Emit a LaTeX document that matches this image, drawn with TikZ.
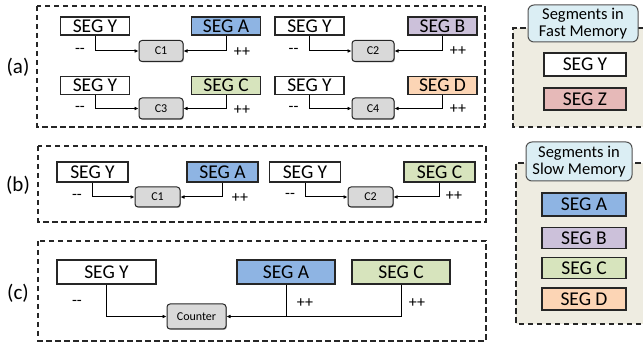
\documentclass[tikz,border=0pt]{standalone}
\usepackage{fontspec}
\setmainfont{Carlito}
\usetikzlibrary{arrows.meta,shadows}
\definecolor{segA}{HTML}{8EB4E3}
\definecolor{segB}{HTML}{CCC1DA}
\definecolor{segC}{HTML}{D7E4BD}
\definecolor{segD}{HTML}{FCD5B5}
\definecolor{segZ}{HTML}{E6B9B8}
\definecolor{cntfill}{HTML}{D9D9D9}
\definecolor{panelbg}{HTML}{EEECE1}
\definecolor{titlefill}{HTML}{DBEEF4}
\definecolor{edge}{HTML}{262626}
\begin{document}
\begin{tikzpicture}[x=1pt,y=-1pt,
  shad/.style={drop shadow={shadow xshift=0.9pt,shadow yshift=-0.9pt,opacity=0.35,fill=black}},
  segbox/.style={draw=edge,line width=1.2pt,fill=white,inner sep=0pt,shad,
    font=\fontsize{19.5}{21}\selectfont},
  cntbox/.style={draw=edge,line width=1pt,fill=cntfill,rounded corners=3pt,inner sep=0pt,shad,
    font=\fontsize{12}{14}\selectfont},
  titlebox/.style={draw=edge!80,line width=1pt,fill=titlefill,rounded corners=6pt,inner sep=0pt,
    align=center,font=\fontsize{16.5}{17.5}\selectfont},
  panel/.style={draw=black!85,line width=1.5pt,dash pattern=on 5.5pt off 3.5pt},
  conn/.style={line width=1pt,-{Latex[length=4pt,width=3.8pt]}},
  plain/.style={line width=1pt},
  sign/.style={font=\fontsize{16}{18}\selectfont,inner sep=0pt},
  lab/.style={font=\fontsize{21}{23}\selectfont,inner sep=0pt}]
\useasboundingbox (0,0) rectangle (643,347);

% ---------- panels ----------
\draw[panel] (37,6) rectangle (485,127);
\draw[panel] (38,146) rectangle (486,222);
\draw[panel] (38,241) rectangle (486,341);
\fill[panelbg] (513,28) rectangle (650,127);
\draw[panel] (650,127) -- (513,127) -- (513,28) -- (650,28);
\fill[panelbg] (516,163) rectangle (650,324);
\draw[panel] (650,324) -- (516,324) -- (516,163) -- (650,163);

\node[lab] (la) at (18,67) {(a)};
\node[lab] (lb) at (18,185) {(b)};
\node[lab] (lc) at (18,293) {(c)};

% ---------- (a) ----------
\foreach \nm/\cx/\fc/\tx/\cy in {aY1/95/white/SEG Y/26, aA/226/segA/SEG A/26,
   aY2/309.5/white/SEG Y/26, aB/442.5/segB/SEG B/26,
   aY3/95/white/SEG Y/85.5, aC/226/segC/SEG C/85.5,
   aY4/309.5/white/SEG Y/85.5, aD/442.5/segD/SEG D/85.5}
  \node[segbox,fill=\fc,minimum width=69pt,minimum height=18pt] (\nm) at (\cx,\cy) {\tx};
\node[cntbox,minimum width=44pt,minimum height=21pt] (aC1) at (161,51) {C1};
\node[cntbox,minimum width=42pt,minimum height=21pt] (aC2) at (373,51) {C2};
\node[cntbox,minimum width=44pt,minimum height=21pt] (aC3) at (161,108.5) {C3};
\node[cntbox,minimum width=42pt,minimum height=21pt] (aC4) at (373,108.5) {C4};
\draw[conn] (aY1.south) |- (aC1.west);
\draw[conn] (aA.south) |- (aC1.east);
\draw[conn] (aY2.south) |- (aC2.west);
\draw[conn] (aB.south) |- (aC2.east);
\draw[conn] (aY3.south) |- (aC3.west);
\draw[conn] (aC.south) |- (aC3.east);
\draw[conn] (aY4.south) |- (aC4.west);
\draw[conn] (aD.south) |- (aC4.east);
\node[sign] (am1) at (80,51) {-{}-};
\node[sign] (ap1) at (242,52) {++};
\node[sign] (am2) at (293.5,51) {-{}-};
\node[sign] (ap2) at (458,51) {++};
\node[sign] (am3) at (80,109) {-{}-};
\node[sign] (ap3) at (242,110) {++};
\node[sign] (am4) at (293.5,109) {-{}-};
\node[sign] (ap4) at (458,109) {++};

% ---------- (b) ----------
\foreach \nm/\cx/\fc/\tx in {bY1/92.5/white/SEG Y, bA/222.5/segA/SEG A,
   bY2/305/white/SEG Y, bC/439.5/segC/SEG C}
  \node[segbox,fill=\fc,minimum width=71pt,minimum height=20pt] (\nm) at (\cx,172) {\tx};
\node[cntbox,minimum width=45pt,minimum height=20pt] (bC1) at (157.5,197) {C1};
\node[cntbox,minimum width=45pt,minimum height=20pt] (bC2) at (370.5,197) {C2};
\draw[conn] (bY1.south) |- (bC1.west);
\draw[conn] (bA.south) |- (bC1.east);
\draw[conn] (bY2.south) |- (bC2.west);
\draw[conn] (bC.south) |- (bC2.east);
\node[sign] (bm1) at (77,197) {-{}-};
\node[sign] (bp1) at (240,198) {++};
\node[sign] (bm2) at (290,196) {-{}-};
\node[sign] (bp2) at (454,196) {++};

% ---------- (c) ----------
\node[segbox,minimum width=99pt,minimum height=24pt] (cY) at (106.5,272) {SEG Y};
\node[segbox,fill=segA,minimum width=98pt,minimum height=24pt] (cA) at (286,272) {SEG A};
\node[segbox,fill=segC,minimum width=98pt,minimum height=24pt] (cC) at (401,272) {SEG C};
\node[cntbox,minimum width=59pt,minimum height=25pt] (cCnt) at (196.5,316.5) {Counter};
\draw[conn] (cY.south) |- (cCnt.west);
\draw[conn] (cC.south) |- (cCnt.east);
\draw[plain] (cA.south) -- (cA.south |- cCnt.east);
\node[sign] (cm) at (77,303) {-{}-};
\node[sign] (cp1) at (305,303) {++};
\node[sign] (cp2) at (417,303) {++};

% ---------- fast memory ----------
\node[titlebox,minimum width=110pt,minimum height=37pt] (ft) at (583,23.5) {Segments in\\Fast Memory};
\node[segbox,minimum width=82pt,minimum height=23pt] (fY) at (585,64.5) {SEG Y};
\node[segbox,fill=segZ,minimum width=82pt,minimum height=22pt] (fZ) at (585,99) {SEG Z};

% ---------- slow memory ----------
\node[titlebox,minimum width=106pt,minimum height=39pt] (st) at (579,161.5) {Segments in\\Slow Memory};
\node[segbox,fill=segA,minimum width=84pt,minimum height=23pt] (sA) at (584,204.5) {SEG A};
\node[segbox,fill=segB,minimum width=84pt,minimum height=21pt] (sB) at (584,238) {SEG B};
\node[segbox,fill=segC,minimum width=84pt,minimum height=21pt] (sC) at (584,268) {SEG C};
\node[segbox,fill=segD,minimum width=84pt,minimum height=22pt] (sD) at (584,299) {SEG D};
\end{tikzpicture}
\end{document}
